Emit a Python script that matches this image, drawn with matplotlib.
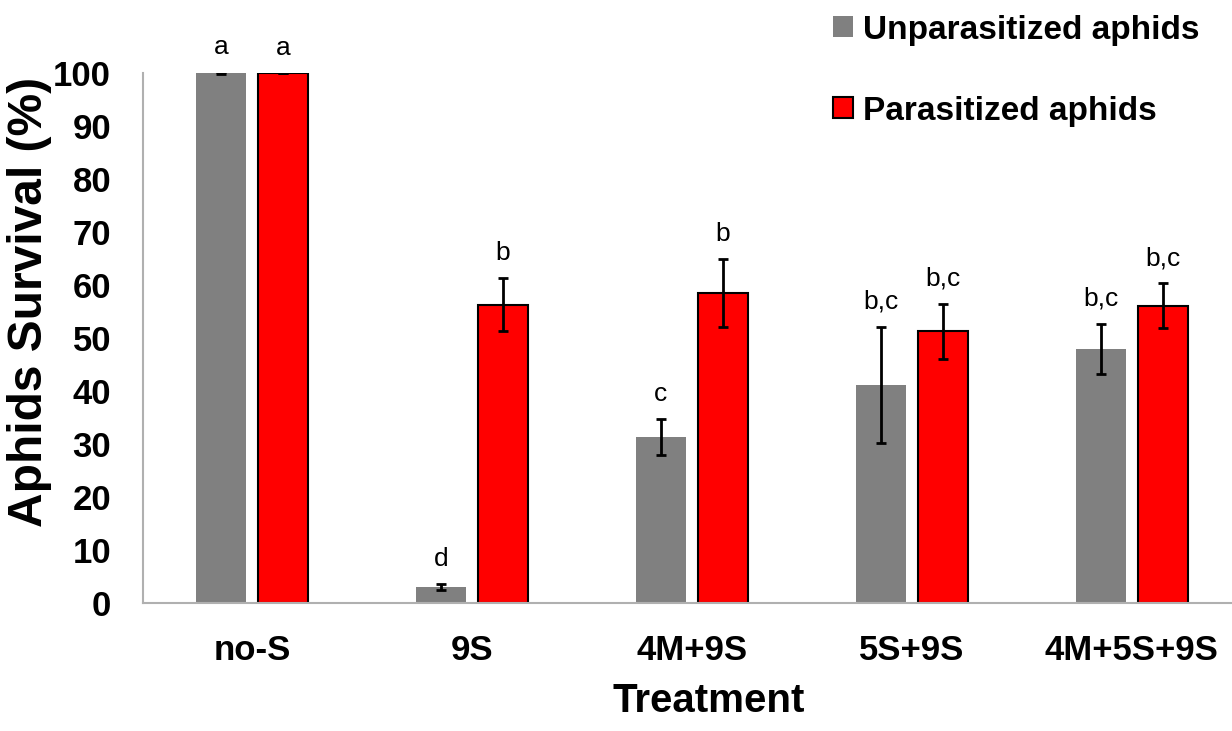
"""Aphid survival by treatment: unparasitized vs parasitized (grouped bars)."""

import matplotlib as mpl
import matplotlib.pyplot as plt
import numpy as np

# --- data ---
treatments = ["no-S", "9S", "4M+9S", "5S+9S", "4M+5S+9S"]
unpar = [100.0, 3.0, 31.3, 41.1, 48.0]
unpar_err = [0.2, 0.6, 3.4, 11.0, 4.7]
par = [100.0, 56.3, 58.5, 51.3, 56.1]
par_err = [0.0, 5.0, 6.4, 5.2, 4.2]
unpar_letters = ["a", "d", "c", "b,c", "b,c"]
par_letters = ["a", "b", "b", "b,c", "b,c"]

GRAY = "#808080"
RED = "#ff0000"
SPINE = "#b0b0b0"

mpl.rcParams.update({"font.family": ["Liberation Sans", "DejaVu Sans"]})

fig = plt.figure(figsize=(12.32, 7.31), dpi=100)
ax = fig.add_axes([143 / 1232, 128 / 731, 1 - 143 / 1232, 530 / 731])

x = np.arange(len(treatments))
w = 0.225
off = 0.141

err_kw = dict(ecolor="black", elinewidth=2, capsize=3.3, capthick=2)
ax.bar(x - off, unpar, w, color=GRAY, edgecolor="none",
       yerr=unpar_err, error_kw=err_kw, label="Unparasitized aphids", zorder=2)
ax.bar(x + off, par, w, color=RED, edgecolor="black", linewidth=1.5,
       yerr=par_err, error_kw=err_kw, label="Parasitized aphids", zorder=2)

for xi, v, e, t in zip(x - off, unpar, unpar_err, unpar_letters):
    ax.text(xi, v + e + 3.4, t, ha="center", va="baseline", fontsize=19, clip_on=False)
for xi, v, e, t in zip(x + off, par, par_err, par_letters):
    ax.text(xi, v + e + 3.4, t, ha="center", va="baseline", fontsize=19, clip_on=False)

ax.set_xlim(-0.495, 4.455)
ax.set_ylim(0, 100)
ax.set_yticks(np.arange(0, 101, 10))
ax.set_xticks(x)
ax.set_xticklabels(treatments)
ax.tick_params(axis="both", length=0, labelsize=25)
ax.tick_params(axis="y", pad=23)
ax.tick_params(axis="x", pad=22)
for lab in ax.get_xticklabels() + ax.get_yticklabels():
    lab.set_fontweight("bold")

ax.set_xlabel("Treatment", fontsize=29, fontweight="bold", va="center")
ax.xaxis.set_label_coords(0.5 + 21 / 1089, -98 / 530)
ax.set_ylabel("Aphids Survival (%)", fontsize=34.5, fontweight="bold", va="center")
ax.yaxis.set_label_coords(-113 / 1089, 301 / 530)

for side in ("top", "right"):
    ax.spines[side].set_visible(False)
for side in ("left", "bottom"):
    ax.spines[side].set_color(SPINE)
    ax.spines[side].set_linewidth(1.5)

fig.legend(loc="upper left", bbox_to_anchor=(0.657, 1.012), frameon=False,
           prop={"size": 24, "weight": "bold"}, handlelength=0.6, handleheight=0.6,
           handletextpad=0.3, labelspacing=1.5, borderpad=0.2)

fig.savefig("out.png", dpi=100, facecolor="white")
